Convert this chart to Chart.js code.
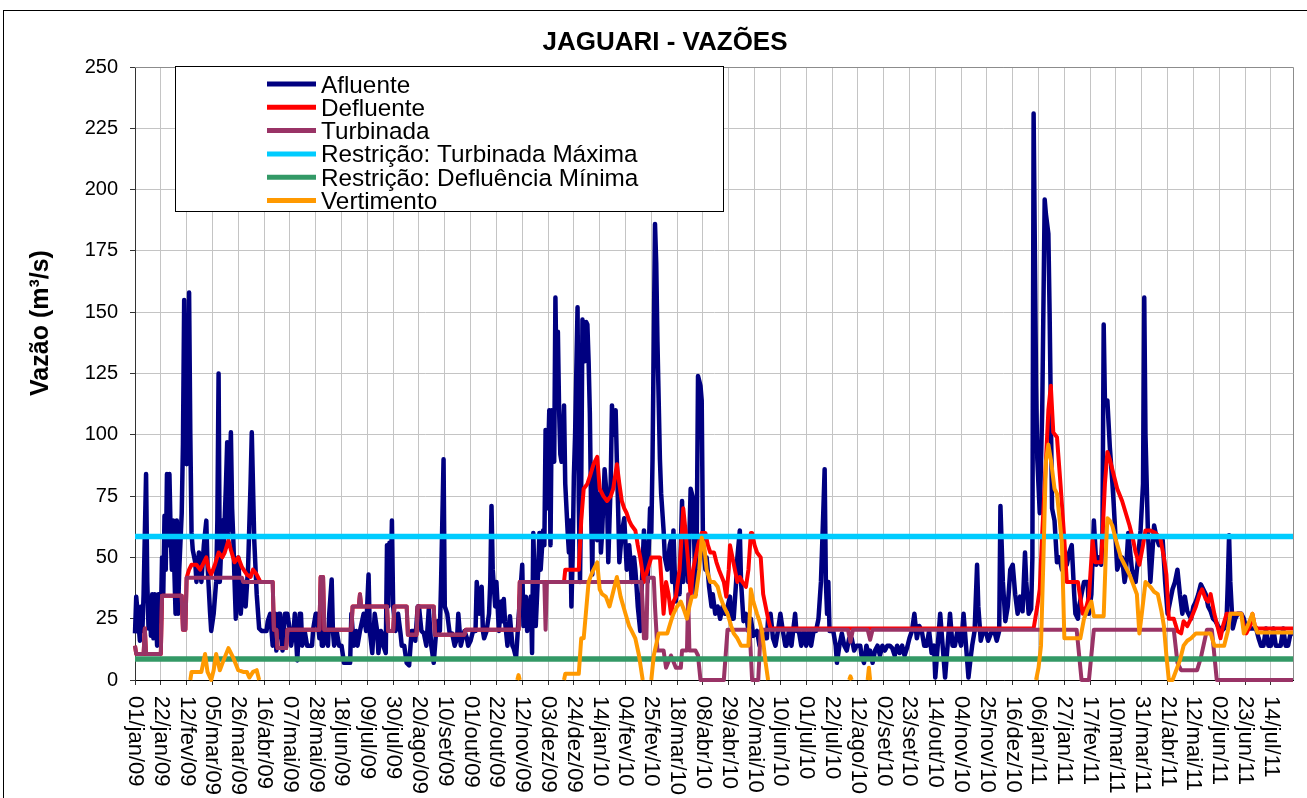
<!DOCTYPE html>
<html>
<head>
<meta charset="utf-8">
<script src="https://cdn.jsdelivr.net/npm/chart.js@4.4.1/dist/chart.umd.min.js"></script>
<style>
  html, body { margin: 0; padding: 0; background: #fff; }
  #wrap { position: relative; width: 1307px; height: 798px; }
  canvas { display: block; }
</style>
</head>
<body>
<div id="wrap"><canvas id="grafico" width="1307" height="798"></canvas></div>
<script>
// JAGUARI - vazões diárias (dia contado a partir de 01/jan/09, valor em m³/s)

const chartTitle = 'JAGUARI - VAZÕES';
const yTitle = 'Vazão (m³/s)';

const tickLabels = ['01/jan/09','22/jan/09','12/fev/09','05/mar/09','26/mar/09','16/abr/09','07/mai/09','28/mai/09',
  '18/jun/09','09/jul/09','30/jul/09','20/ago/09','10/set/09','01/out/09','22/out/09','12/nov/09','03/dez/09',
  '24/dez/09','14/jan/10','04/fev/10','25/fev/10','18/mar/10','08/abr/10','29/abr/10','20/mai/10','10/jun/10',
  '01/jul/10','22/jul/10','12/ago/10','02/set/10','23/set/10','14/out/10','04/nov/10','25/nov/10','16/dez/10',
  '06/jan/11','27/jan/11','17/fev/11','10/mar/11','31/mar/11','21/abr/11','12/mai/11','02/jun/11','23/jun/11','14/jul/11'];
const tickStep = 21;
const lastDay = 942;

const afluente = [
  [0,19],[1,34],[3,22],[4,16],[5,30],[6,20],[7,35],[9,84],[10,40],[11,21],[12,30],[13,18],[14,35],[15,17],[16,35],[18,14],
  [19,35],[20,35],[21,24],[22,50],[23,35],[24,67],[25,45],[26,84],[27,55],[28,84],[29,60],[30,45],[31,65],[32,45],[33,27],
  [34,65],[35,27],[36,45],[38,68],[39,96],[40,155],[41,100],[42,88],[43,120],[44,158],[45,100],[46,60],[47,53],[49,48],
  [50,40],[52,52],[54,40],[56,55],[58,65],[59,47],[61,28],[62,20],[64,27],[66,40],[67,65],[68,125],[69,40],[71,65],[72,52],
  [74,80],[75,97],[76,60],[78,101],[79,70],[80,57],[81,40],[82,25],[84,50],[86,27],[88,40],[90,30],[92,46],[94,80],[95,101],
  [97,57],[99,35],[101,21],[103,20],[105,20],[107,20],[108,24],[110,27],[112,14],[114,27],[115,12],[117,27],[118,27],[120,12],
  [122,27],[124,27],[126,20],[127,14],[129,20],[130,27],[132,8],[134,27],[135,27],[136,14],[138,20],[140,14],[142,14],[144,14],
  [145,21],[147,27],[148,27],[150,17],[151,27],[152,14],[153,14],[155,20],[157,14],[158,27],[160,41],[161,20],[162,14],[164,20],
  [166,14],[168,14],[170,7],[172,7],[175,7],[176,27],[178,14],[180,20],[181,14],[183,20],[186,27],[188,20],[190,43],[191,20],
  [193,11],[195,27],[197,20],[198,11],[200,20],[201,19],[202,14],[204,11],[205,55],[206,30],[207,56],[208,40],[209,65],[210,30],
  [212,20],[214,27],[216,19],[217,14],[219,14],[221,7],[223,6],[225,20],[227,20],[228,16],[230,30],[231,30],[233,20],[235,19],
  [237,14],[239,29],[241,14],[243,7],[245,20],[246,24],[248,20],[249,40],[251,90],[252,30],[254,27],[256,19],[258,19],[260,14],
  [262,17],[263,27],[265,14],[266,16],[268,20],[270,17],[271,14],[273,16],[275,20],[277,20],[278,40],[280,27],[282,38],[283,20],
  [284,17],[286,20],[288,27],[289,40],[290,71],[291,45],[293,30],[294,40],[296,20],[298,32],[299,24],[300,33],[301,24],[303,14],
  [305,26],[306,20],[307,14],[308,13],[310,9],[312,25],[315,47],[316,22],[318,34],[319,20],[321,30],[322,34],[323,11],[324,60],
  [326,22],[328,45],[329,60],[330,45],[332,61],[333,55],[334,102],[335,70],[337,110],[338,55],[339,110],[340,95],[341,89],
  [342,156],[343,120],[344,142],[345,110],[346,92],[347,89],[348,95],[349,112],[350,80],[352,60],[353,52],[354,65],[355,30],
  [356,50],[357,83],[358,100],[360,152],[361,73],[362,40],[363,80],[364,147],[366,130],[367,146],[368,145],[369,130],[370,109],
  [371,70],[372,43],[373,88],[375,84],[376,57],[378,76],[379,52],[380,60],[382,86],[384,73],[385,48],[386,65],[387,81],[388,112],
  [389,100],[391,110],[392,89],[393,70],[394,48],[396,60],[398,66],[400,45],[402,55],[403,49],[404,40],[406,50],[407,45],[408,38],
  [409,30],[411,20],[412,35],[414,61],[415,50],[417,40],[419,70],[420,60],[421,90],[423,186],[424,170],[425,138],[427,90],[428,76],
  [430,61],[431,50],[433,45],[435,55],[436,57],[437,40],[438,61],[439,45],[440,32],[442,43],[443,35],[445,73],[446,40],[447,55],
  [449,58],[450,40],[452,78],[454,74],[456,35],[457,60],[458,124],[460,120],[461,114],[462,57],[464,45],[465,50],[467,38],[469,30],
  [470,35],[472,27],[474,30],[476,25],[478,30],[480,27],[482,30],[484,34],[485,25],[487,25],[489,40],[490,50],[492,61],[493,40],
  [495,24],[497,27],[499,20],[501,25],[503,18],[506,20],[508,14],[510,20],[512,17],[514,17],[515,25],[517,27],[519,17],[521,14],
  [523,20],[525,27],[527,20],[529,14],[530,14],[532,20],[534,14],[537,27],[538,20],[540,20],[542,14],[544,20],[546,14],[548,20],
  [550,14],[552,20],[554,20],[556,25],[558,40],[560,70],[561,86],[562,40],[563,27],[564,40],[565,20],[568,20],[570,14],[571,7],
  [573,14],[575,19],[577,14],[579,12],[581,17],[583,17],[585,12],[587,14],[590,14],[591,10],[593,7],[595,14],[597,10],[598,12],
  [600,7],[602,12],[604,14],[606,10],[608,14],[610,12],[612,14],[614,14],[616,13],[618,10],[620,14],[622,11],[624,14],[626,10],
  [628,13],[630,17],[632,20],[634,27],[636,17],[638,22],[640,20],[642,14],[644,14],[646,20],[648,11],[650,14],[651,1],[653,14],
  [655,27],[657,14],[659,1],[661,14],[663,27],[665,14],[667,14],[669,20],[672,14],[674,27],[676,14],[678,1],[680,10],[681,14],
  [683,20],[685,47],[686,30],[688,16],[690,20],[692,20],[694,16],[697,20],[699,20],[701,16],[703,20],[704,71],[706,40],[708,24],
  [710,30],[712,45],[714,47],[716,35],[718,27],[720,34],[722,28],[724,52],[725,40],[727,27],[729,29],[730,50],[731,231],[733,120],
  [734,90],[736,68],[738,110],[740,196],[741,190],[743,182],[744,150],[746,70],[748,65],[750,48],[752,50],[754,45],[756,47],
  [758,47],[760,52],[762,55],[764,35],[765,27],[767,25],[768,30],[770,35],[772,40],[775,40],[776,27],[778,35],[780,65],[782,47],
  [784,50],[786,47],[787,60],[788,145],[789,114],[791,114],[793,95],[795,81],[796,73],[798,55],[799,45],[801,48],[803,50],[805,40],
  [806,43],[808,60],[810,50],[811,45],[813,42],[814,40],[816,50],[818,61],[820,80],[821,156],[822,100],[824,60],[826,40],[828,55],
  [829,63],[831,58],[833,55],[836,57],[838,40],[840,27],[842,32],[844,37],[846,40],[848,45],[850,35],[852,27],[854,34],[856,28],
  [859,25],[861,30],[863,32],[865,35],[867,39],[869,37],[871,35],[873,30],[875,28],[877,25],[879,24],[881,22],[884,20],[886,21],
  [888,25],[889,40],[890,59],[891,40],[893,21],[895,25],[897,27],[900,27],[902,25],[904,21],[907,21],[910,21],[912,21],[914,17],
  [916,14],[918,14],[920,21],[922,14],[924,14],[926,21],[928,14],[930,14],[932,14],[934,21],[936,14],[938,14],[940,19],[942,19]
];

const defluente = [
  [0,14],[1,10.6],[7,10.6],[8,21],[9,10.6],[21,10.6],[22,34.4],[38,34.4],[39,20.5],[41,20.5],[42,41.7],[44,45],[46,47],[50,47],
  [53,45],[56,48],[58,50],[60,45],[62,43],[65,47],[68,52],[71,50],[73,52],[76,57],[78,53],[81,48],[84,50],[87,46],[91,43],[94,42],
  [96,45],[99,43],[102,40],[112,40],[113,20.5],[115,20.5],[116,13],[123,13],[124,20.5],[150,20.5],[151,42],[153,42],[154,20.5],
  [176,20.5],[177,30],[182,30],[183,35],[184,30],[205,30],[206,20],[210,20],[211,30],[221,30],[222,18.5],[229,18.5],[230,30],
  [243,30],[244,18.5],[268,18.5],[269,20.5],[312,20.5],[313,40],[349,40],[350,45],[361,45],[363,65],[365,78],[368,80],[370,83],
  [373,88],[376,91],[378,78],[381,75],[384,73],[387,75],[389,78],[392,88],[394,80],[396,73],[398,70],[400,68],[402,65],[404,63],
  [407,61],[409,55],[411,50],[414,40],[417,45],[420,50],[427,50],[430,27],[432,40],[434,35],[436,27],[438,32],[440,34],[443,45],
  [446,70],[448,60],[450,48],[452,34],[454,45],[456,50],[458,55],[461,60],[464,60],[466,55],[468,52],[471,52],[473,48],[475,45],
  [479,40],[481,34],[483,45],[484,55],[486,50],[488,45],[490,40],[492,42],[494,40],[497,38],[499,45],[501,60],[502,60],[504,55],
  [506,52],[509,50],[511,35],[513,30],[515,25],[517,21],[731,21],[734,30],[736,37],[738,60],[741,89],[743,110],[745,120],[747,101],
  [750,99],[753,79],[756,57],[758,40],[767,40],[771,27],[774,30],[776,34],[779,57],[781,48],[786,48],[789,80],[791,93],[793,90],
  [795,86],[797,82],[799,78],[803,73],[806,68],[809,63],[812,57],[814,52],[817,47],[820,55],[822,61],[826,61],[830,60],[834,58],
  [837,50],[839,43],[841,25],[845,25],[848,20],[851,19],[853,24],[856,22],[859,25],[863,30],[866,35],[868,37],[871,33],[873,32],
  [875,35],[878,27],[881,21],[883,17],[885,22],[888,27],[900,27],[902,22],[904,19],[907,22],[909,27],[911,22],[913,21],[942,21]
];

const turbinada = [
  [0,14],[1,10.6],[7,10.6],[8,21],[9,10.6],[21,10.6],[22,34.4],[38,34.4],[39,20.5],[41,20.5],[42,41.7],[87,41.7],[88,40],[112,40],
  [113,20.5],[115,20.5],[116,13],[123,13],[124,20.5],[150,20.5],[151,42],[153,42],[154,20.5],[176,20.5],[177,30],[182,30],[183,35],
  [184,30],[205,30],[206,20],[210,20],[211,30],[221,30],[222,18.5],[229,18.5],[230,30],[243,30],[244,18.5],[268,18.5],[269,20.5],
  [312,20.5],[313,40],[333,40],[334,20.5],[335,40],[412,40],[413,30],[414,17],[416,17],[417,41.7],[422,41.7],[423,30],[425,12],
  [430,12],[432,5],[436,10],[440,5],[444,5],[445,12],[449,12],[450,35],[451,12],[456,12],[458,10],[460,0],[479,0],[482,20.5],
  [500,20.5],[502,0],[507,0],[509,20.5],[580,20.5],[582,15.6],[584,20.5],[596,20.5],[598,16.4],[600,20.5],[766,20.5],[770,0],
  [776,0],[780,20.5],[845,20.5],[848,7],[851,4],[864,4],[867,9],[872,20.5],[876,20.5],[880,0],[942,0]
];

const turbinadaMaxima = 58.5;
const defluenciaMinima = 8.6;

// null = sem vertimento (trecho em branco)
const vertimento = [
  [45,0],[46,3.3],[54,3.3],[57,10.6],[59,3.3],[62,0],[64,4],[66,10.6],[69,4],[72,8],[76,13],[80,9],[84,4],[88,3.3],[91,3.3],
  [93,1],[96,3.3],[99,4],[101,0],[102,null],
  [311,0],[312,2],[313,0],[314,null],
  [349,0],[350,2.5],[361,2.5],[363,17],[365,17],[369,40],[372,44],[376,48],[378,37],[380,35],[383,34],[386,30],[389,36],[392,42],
  [395,34],[399,27],[402,22],[404,20],[407,17],[410,10],[413,0],[414,null],
  [420,0],[422,10],[426,19],[433,19],[436,24],[438,27],[441,30],[444,32],[447,28],[449,25],[451,30],[453,34],[456,34],[459,45],
  [461,58],[463,55],[465,45],[468,40],[471,40],[474,38],[476,34],[479,30],[482,27],[485,22],[487,19],[490,17],[493,14],[499,14],
  [501,37],[503,32],[506,27],[508,24],[510,20],[513,7],[515,0],[516,null],
  [581,0],[582,1.5],[583,0],[584,null],
  [596,0],[597,5],[598,0],[599,null],
  [733,0],[735,5],[737,14],[739,50],[741,89],[743,96],[745,90],[748,78],[750,76],[752,66],[754,56],[756,17],[769,17],[772,25],
  [775,29],[778,32],[780,26],[788,26],[790,55],[791,66],[793,65],[795,63],[798,57],[802,50],[805,47],[809,43],[812,39],[815,35],
  [817,19],[819,27],[822,40],[826,38],[829,36],[832,35],[835,28],[837,22],[839,10],[841,0],[844,0],[847,4],[850,8],[853,14],
  [856,16],[859,17],[863,19],[875,19],[878,14],[886,14],[889,20],[891,27],[900,27],[902,19],[905,22],[909,27],[911,22],[913,19.4],
  [942,19.4]
];

const FONT = '"Liberation Sans", Arial, sans-serif';

function pts(arr) {
  return arr.map(([x, y]) => ({ x, y }));
}

function serie(label, data, color, width, order) {
  return {
    label, data: pts(data), borderColor: color, backgroundColor: color,
    borderWidth: width, pointRadius: 0, tension: 0, spanGaps: false,
    borderJoinStyle: 'round', clip: false, order
  };
}

// title, axis title, rotated date labels, legend box, borders
const decor = {
  id: 'decor',
  afterDraw(chart) {
    const { ctx, chartArea: a } = chart;
    const xs = chart.scales.x;
    ctx.save();

    ctx.strokeStyle = '#8c8c8c';
    ctx.lineWidth = 1;
    ctx.beginPath();
    ctx.moveTo(a.left, a.top + 0.5);
    ctx.lineTo(a.right + 0.5, a.top + 0.5);
    ctx.lineTo(a.right + 0.5, a.bottom);
    ctx.stroke();

    ctx.strokeStyle = '#000';
    ctx.strokeRect(3.5, 10.5, 1400, 900);

    ctx.fillStyle = '#000';
    ctx.font = 'bold 26px ' + FONT;
    ctx.textAlign = 'center';
    ctx.textBaseline = 'middle';
    ctx.fillText(chartTitle, 665, 43);

    ctx.save();
    ctx.translate(41, 323);
    ctx.rotate(-Math.PI / 2);
    ctx.font = 'bold 25px ' + FONT;
    ctx.fillText(yTitle, 0, 0);
    ctx.restore();

    ctx.font = '22px ' + FONT;
    ctx.textAlign = 'left';
    ctx.textBaseline = 'middle';
    tickLabels.forEach((lbl, i) => {
      const px = xs.getPixelForValue(i * tickStep);
      ctx.save();
      ctx.translate(px, a.bottom + 16);
      ctx.rotate(Math.PI / 2);
      ctx.fillText(lbl, 0, 0);
      ctx.restore();
    });

    // legend
    ctx.fillStyle = '#fff';
    ctx.fillRect(175.5, 66.5, 548, 145);
    ctx.strokeStyle = '#000';
    ctx.lineWidth = 1;
    ctx.strokeRect(175.5, 66.5, 548, 145);
    ctx.font = '24.3px ' + FONT;
    ctx.textBaseline = 'alphabetic';
    chart.data.datasets.forEach((ds, i) => {
      const y = 84 + i * 23.3;
      ctx.strokeStyle = ds.borderColor;
      ctx.lineWidth = 5;
      ctx.beginPath();
      ctx.moveTo(267, y);
      ctx.lineTo(316, y);
      ctx.stroke();
      ctx.fillStyle = '#000';
      ctx.fillText(ds.label, 321, y + 8.5);
    });

    ctx.restore();
  }
};

new Chart(document.getElementById('grafico'), {
  type: 'line',
  data: {
    datasets: [
      serie('Afluente', afluente, '#000080', 4.5, 6),
      serie('Defluente', defluente, '#ff0000', 4, 5),
      serie('Turbinada', turbinada, '#993366', 4, 4),
      serie('Restrição: Turbinada Máxima', [[0, turbinadaMaxima], [lastDay, turbinadaMaxima]], '#00ccff', 5.5, 3),
      serie('Restrição: Defluência Mínima', [[0, defluenciaMinima], [lastDay, defluenciaMinima]], '#339966', 5.5, 2),
      serie('Vertimento', vertimento, '#ff9900', 4, 1)
    ]
  },
  options: {
    responsive: false,
    animation: false,
    events: [],
    layout: { padding: { left: 0, right: 14, top: 67, bottom: 0 } },
    plugins: { legend: { display: false }, title: { display: false }, tooltip: { enabled: false } },
    scales: {
      x: {
        type: 'linear', min: 0, max: lastDay,
        afterFit: (s) => { s.height = 118; },
        ticks: { stepSize: tickStep, display: false, includeBounds: false },
        grid: { color: '#c4c4c4', tickColor: '#333', tickLength: 5 },
        border: { color: '#000', width: 1 }
      },
      y: {
        min: 0, max: 250,
        afterFit: (s) => { s.width = 135; },
        ticks: { stepSize: 25, color: '#000', padding: 12, font: { family: FONT, size: 20 } },
        grid: { color: '#c4c4c4', tickColor: '#333', tickLength: 5 },
        border: { color: '#333', width: 1 }
      }
    }
  },
  plugins: [decor]
});
</script>
</body>
</html>
